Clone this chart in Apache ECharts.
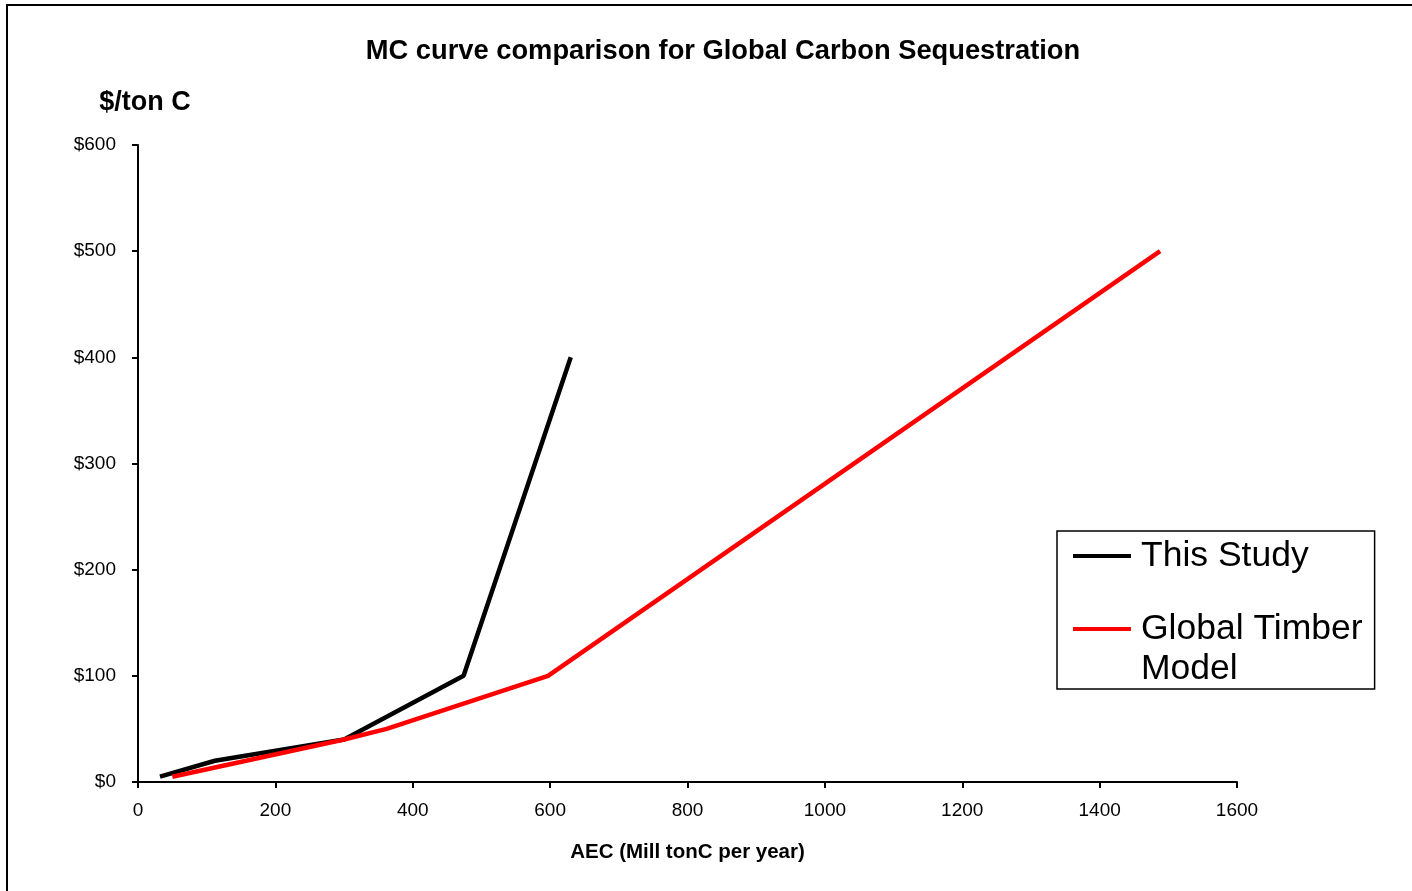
<!DOCTYPE html>
<html>
<head>
<meta charset="utf-8">
<script src="https://cdn.jsdelivr.net/npm/echarts@6/dist/echarts.min.js"></script>
<style>
html,body{margin:0;padding:0;background:#fff;}
#c{width:1412px;height:891px;}
</style>
</head>
<body>
<div id="c"></div>
<script>
// Data (AEC in Mill tonC/yr, price in $/ton C)
const thisStudyX = [32, 112, 300, 474, 630];
const thisStudyY = [5, 20, 40, 100, 400];
const gtmX = [50, 300, 362, 597, 1488];
const gtmY = [5, 40, 50, 100, 500];
const seriesNames = ['This Study', 'Global Timber Model'];
const xTicks = [0, 1600, 200];   // min, max, interval
const yTicks = [0, 600, 100];

const font = 'Liberation Sans, Arial, sans-serif';
const chart = echarts.init(document.getElementById('c'));
chart.setOption({
  backgroundColor: '#fff',
  animation: false,
  title: {
    text: 'MC curve comparison for Global Carbon Sequestration',
    left: 718, top: 33, textAlign: 'center',
    textStyle: {fontFamily: font, fontSize: 27.3, fontWeight: 'bold', color: '#000'}
  },
  graphic: [{
    type: 'rect', shape: {x: 7, y: 5, width: 1420, height: 900},
    style: {fill: 'none', stroke: '#000', lineWidth: 2}, silent: true, z: -1
  }],
  grid: {left: 138, right: 175, top: 145, bottom: 109},
  legend: {
    orient: 'vertical', left: 1057, top: 531,
    padding: [5, 12, 0, 16],
    itemGap: -7,
    icon: 'rect', itemWidth: 58, itemHeight: 4,
    borderColor: '#000', borderWidth: 1.5, backgroundColor: '#fff',
    data: seriesNames,
    formatter: function (n) { return n === 'Global Timber Model' ? ' \nGlobal Timber\nModel' : n; },
    textStyle: {fontFamily: font, fontSize: 35.5, lineHeight: 40, color: '#000', padding: [0, 0, 0, 5]}
  },
  xAxis: {
    type: 'value', min: xTicks[0], max: xTicks[1], interval: xTicks[2],
    name: 'AEC (Mill tonC per year)', nameLocation: 'middle', nameGap: 60,
    nameTextStyle: {fontFamily: font, fontSize: 20.5, fontWeight: 'bold', color: '#000'},
    axisLine: {lineStyle: {color: '#000', width: 2}},
    axisTick: {show: true, length: 6, lineStyle: {color: '#000', width: 2}},
    axisLabel: {fontFamily: font, fontSize: 19, color: '#000', margin: 19,
      formatter: function (v) { return String(v); }},
    splitLine: {show: false}
  },
  yAxis: {
    type: 'value', min: yTicks[0], max: yTicks[1], interval: yTicks[2],
    name: '$/ton C', nameLocation: 'end', nameGap: 29,
    nameTextStyle: {fontFamily: font, fontSize: 27, fontWeight: 'bold', color: '#000', padding: [0, 0, 0, 14]},
    axisLine: {show: true, lineStyle: {color: '#000', width: 2}},
    axisTick: {show: true, length: 6, lineStyle: {color: '#000', width: 2}},
    axisLabel: {fontFamily: font, fontSize: 19, color: '#000', margin: 22,
      formatter: function (v) { return '$' + v; }},
    splitLine: {show: false}
  },
  series: [
    {name: seriesNames[0], type: 'line', showSymbol: false, symbol: 'none',
     data: thisStudyX.map((x, i) => [x, thisStudyY[i]]),
     lineStyle: {color: '#000', width: 4.5}, itemStyle: {color: '#000'}},
    {name: seriesNames[1], type: 'line', showSymbol: false, symbol: 'none',
     data: gtmX.map((x, i) => [x, gtmY[i]]),
     lineStyle: {color: '#ff0000', width: 4.5}, itemStyle: {color: '#ff0000'}}
  ]
});
</script>
</body>
</html>
